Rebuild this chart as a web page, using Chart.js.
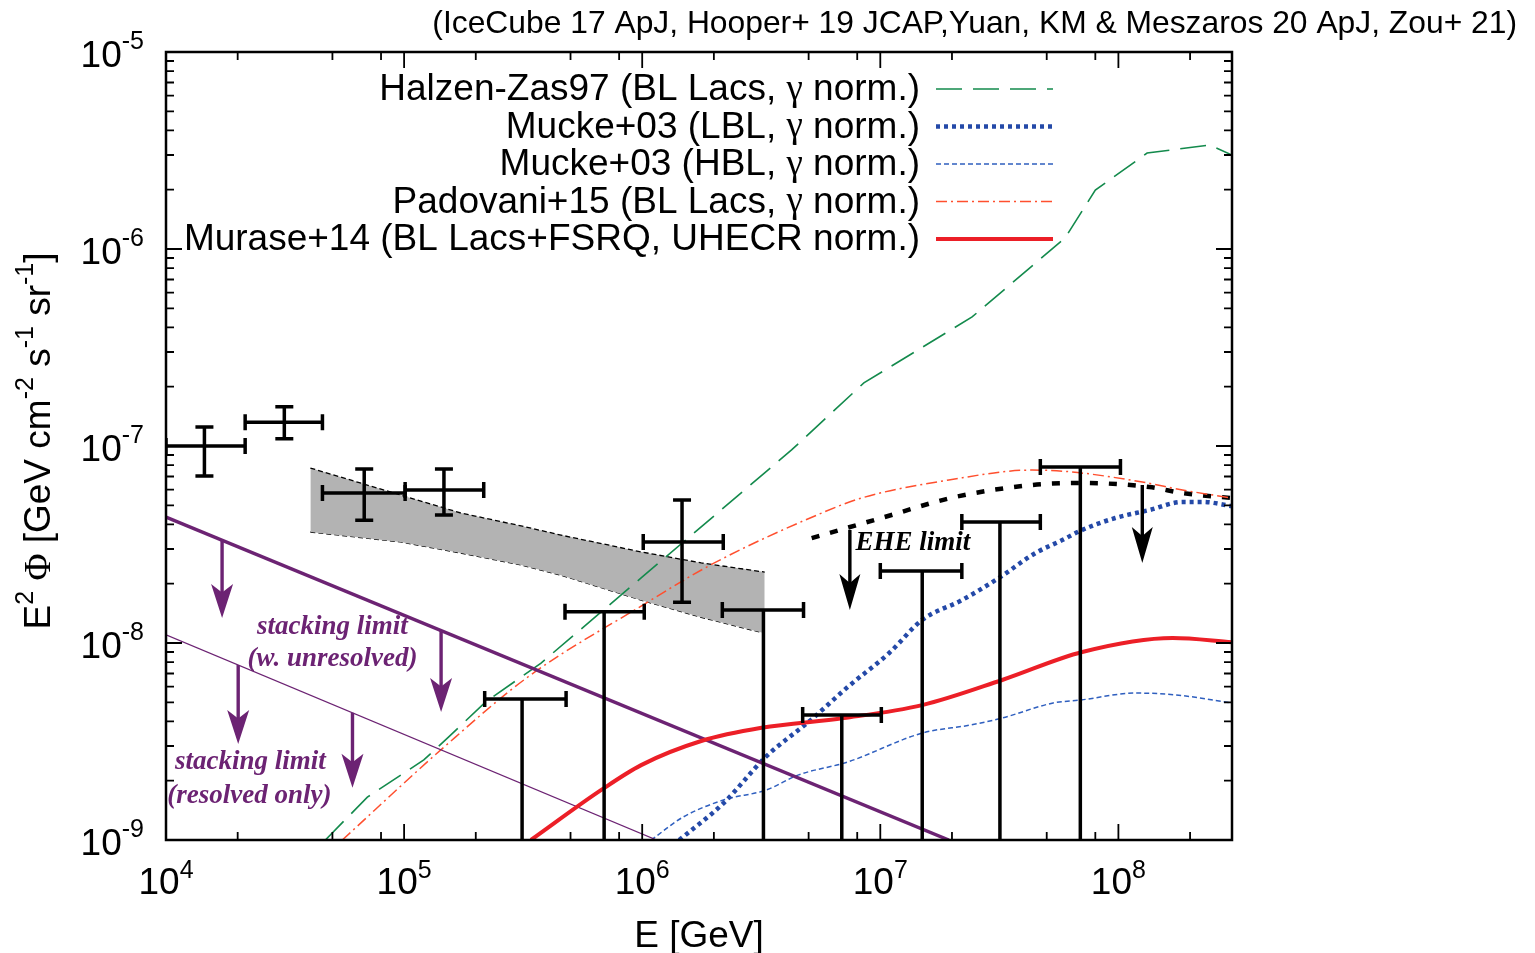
<!DOCTYPE html>
<html>
<head>
<meta charset="utf-8">
<script src="https://cdn.jsdelivr.net/npm/chart.js@4.4.1/dist/chart.umd.min.js"></script>
<style>
  html, body { margin: 0; padding: 0; background: #fff; }
</style>
</head>
<body>
<canvas id="myChart" width="1535" height="953"></canvas>
<script>
// axis ranges
const xMin = 1e4, xMax = 3e8, yMin = 1e-9, yMax = 1e-5;
const xTickExp = [4, 5, 6, 7, 8];
const yTickExp = [-9, -8, -7, -6, -5];
const xMinorMult = [2, 5, 8];
const yMinorMult = [2, 3, 4, 5, 6, 7, 8, 9];

// model curves: energy [GeV] and E^2 flux
const halzenE = [4.67e4, 7.01e4, 1.21e5, 1.52e5, 2.2e5, 3.76e5, 9.9e5, 4.24e6, 8.53e6, 2.43e7, 5.98e7, 8.0e7, 1.32e8, 2.42e8, 3.0e8];
const halzenF = [1.0e-9, 1.65e-9, 2.55e-9, 3.29e-9, 5.02e-9, 7.91e-9, 2.14e-8, 9.55e-8, 2.09e-7, 4.52e-7, 1.14e-6, 1.99e-6, 3.07e-6, 3.37e-6, 3.0e-6];

const lblE = [1.43e6, 2.21e6, 3.3e6, 5.1e6, 7.3e6, 1.09e7, 1.5e7, 2.2e7, 3.15e7, 4.48e7, 5.81e7, 7.05e7, 9.7e7, 1.35e8, 1.86e8, 2.26e8, 3.0e8];
const lblF = [1.0e-9, 1.55e-9, 2.64e-9, 4.06e-9, 5.98e-9, 8.9e-9, 1.31e-8, 1.65e-8, 2.14e-8, 2.86e-8, 3.33e-8, 3.75e-8, 4.31e-8, 4.73e-8, 5.2e-8, 5.2e-8, 4.95e-8];

const hblE = [1.09e6, 1.49e6, 2.21e6, 3.3e6, 4.54e6, 7.3e6, 1.5e7, 2.41e7, 3.25e7, 5.32e7, 6.98e7, 1.18e8, 1.75e8, 3.0e8];
const hblF = [1.0e-9, 1.31e-9, 1.6e-9, 1.79e-9, 2.14e-9, 2.49e-9, 3.49e-9, 3.84e-9, 4.16e-9, 4.96e-9, 5.14e-9, 5.57e-9, 5.45e-9, 4.96e-9];

const padovaniE = [5.5e4, 1.47e5, 3.31e5, 9.9e5, 2.01e6, 5.68e6, 8.36e6, 1.94e7, 4.35e7, 6.4e7, 1.26e8, 1.86e8, 3.0e8];
const padovaniF = [1.0e-9, 2.96e-9, 6.72e-9, 1.54e-8, 2.55e-8, 4.57e-8, 5.45e-8, 6.72e-8, 7.55e-8, 7.38e-8, 6.56e-8, 5.98e-8, 5.44e-8];

const muraseE = [3.41e5, 6.71e5, 9.9e5, 1.77e6, 3.17e6, 7.02e6, 1.5e7, 3.25e7, 7.05e7, 1.69e8, 3.0e8];
const muraseF = [1.0e-9, 1.79e-9, 2.4e-9, 3.18e-9, 3.71e-9, 4.16e-9, 4.84e-9, 6.49e-9, 9.0e-9, 1.06e-8, 1.01e-8];

const eheE = [5.15e6, 1.01e7, 2.06e7, 4.35e7, 7.05e7, 1.35e8, 1.86e8, 3.0e8];
const eheF = [3.41e-8, 4.31e-8, 5.51e-8, 6.34e-8, 6.49e-8, 6.19e-8, 5.77e-8, 5.44e-8];

// stacking limits
const stackAllE = [1e4, 1.94e7];
const stackAllF = [4.36e-8, 1.0e-9];
const stackResE = [1e4, 1.15e6];
const stackResF = [1.1e-8, 1.0e-9];

// diffuse flux band
const bandE = [4.04e4, 9.66e4, 1.73e5, 3.1e5, 4.56e5, 9.9e5, 1.77e6, 3.27e6];
const bandHi = [7.73e-8, 5.64e-8, 4.57e-8, 3.93e-8, 3.53e-8, 2.9e-8, 2.55e-8, 2.29e-8];
const bandLo = [3.66e-8, 3.26e-8, 2.86e-8, 2.49e-8, 2.21e-8, 1.65e-8, 1.35e-8, 1.12e-8];

// measured points
const ptE = [1.45e4, 3.14e4, 6.8e4, 1.47e5, 1.47e6];
const ptELo = [1.0e4, 2.15e4, 4.54e4, 1.01e5, 1.01e6];
const ptEHi = [2.15e4, 4.54e4, 1.01e5, 2.16e5, 2.19e6];
const ptF = [1.0e-7, 1.32e-7, 5.77e-8, 5.98e-8, 3.26e-8];
const ptFLo = [7.05e-8, 1.09e-7, 4.2e-8, 4.47e-8, 1.61e-8];
const ptFHi = [1.25e-7, 1.58e-7, 7.64e-8, 7.64e-8, 5.32e-8];

// upper limits
const ulE = [3.13e5, 6.92e5, 3.23e6, 6.89e6, 1.5e7, 3.18e7, 6.92e7];
const ulELo = [2.18e5, 4.74e5, 2.17e6, 4.72e6, 1.0e7, 2.2e7, 4.7e7];
const ulEHi = [4.79e5, 1.02e6, 4.76e6, 1.01e7, 2.2e7, 4.7e7, 1.02e8];
const ulF = [5.2e-9, 1.44e-8, 1.47e-8, 4.31e-9, 2.32e-8, 4.11e-8, 7.82e-8];

// arrows (energy, from, to)
const purpleArrowE = [1.72e4, 1.43e5, 2.01e4, 6.07e4];
const purpleArrowFrom = [3.33e-8, 1.16e-8, 7.73e-9, 4.42e-9];
const purpleArrowTo = [1.34e-8, 4.47e-9, 3.07e-9, 1.84e-9];
const blackArrowE = [7.45e6, 1.26e8];
const blackArrowFrom = [3.75e-8, 6.34e-8];
const blackArrowTo = [1.47e-8, 2.55e-8];

// text notes
const noteText = ['stacking limit', '(w. unresolved)', 'stacking limit', '(resolved only)', 'EHE limit'];
const noteE = [5.0e4, 5.0e4, 2.26e4, 2.24e4, 1.37e7];
const noteF = [1.2e-8, 8.3e-9, 2.49e-9, 1.67e-9, 3.22e-8];

const SANS = '"Liberation Sans", Arial, Helvetica, sans-serif';
const SERIF = '"Liberation Serif", "Times New Roman", serif';
const PURPLE = '#6c2373';

const xy = (xs, ys) => xs.map((x, i) => ({ x: x, y: ys[i] }));

function richWidth(ctx, segs) {
  let w = 0;
  for (const s of segs) { ctx.font = s.f; w += ctx.measureText(s.t).width; }
  return w;
}
function drawRich(ctx, segs, x, y, align) {
  const w = richWidth(ctx, segs);
  let cx = align === 'right' ? x - w : align === 'center' ? x - w / 2 : x;
  ctx.textAlign = 'left';
  for (const s of segs) {
    ctx.font = s.f;
    ctx.fillText(s.t, cx, y + (s.dy || 0));
    cx += ctx.measureText(s.t).width;
  }
}
function labelSegs(text) {
  const parts = text.split('γ');
  const segs = [];
  parts.forEach((p, i) => {
    if (i > 0) segs.push({ t: 'γ', f: '37px ' + SERIF });
    segs.push({ t: p, f: '37px ' + SANS });
  });
  return segs;
}
function arrow(ctx, x, y0, y1, lw, hl, hw) {
  ctx.lineWidth = lw;
  ctx.beginPath();
  ctx.moveTo(x, y0);
  ctx.lineTo(x, y1 - hl * 0.5);
  ctx.stroke();
  ctx.beginPath();
  ctx.moveTo(x, y1);
  ctx.lineTo(x - hw / 2, y1 - hl);
  ctx.lineTo(x, y1 - hl * 0.75);
  ctx.lineTo(x + hw / 2, y1 - hl);
  ctx.closePath();
  ctx.fill();
}

const decor = {
  id: 'decor',
  beforeDraw(chart) {
    const ctx = chart.ctx;
    ctx.save();
    ctx.fillStyle = '#fff';
    ctx.fillRect(0, 0, chart.width, chart.height);
    ctx.restore();
  },
  afterDatasetsDraw(chart) {
    const { ctx, chartArea: a, scales: { x, y } } = chart;
    ctx.save();
    ctx.beginPath();
    ctx.rect(a.left, a.top, a.right - a.left, a.bottom - a.top);
    ctx.clip();

    // error bars
    ctx.strokeStyle = '#000';
    ctx.lineWidth = 3.5;
    ctx.lineCap = 'butt';
    for (let i = 0; i < ptE.length; i++) {
      const px = x.getPixelForValue(ptE[i]), py = y.getPixelForValue(ptF[i]);
      const x0 = x.getPixelForValue(ptELo[i]), x1 = x.getPixelForValue(ptEHi[i]);
      const y0 = y.getPixelForValue(ptFHi[i]), y1 = y.getPixelForValue(ptFLo[i]);
      ctx.beginPath();
      ctx.moveTo(x0, py); ctx.lineTo(x1, py);
      ctx.moveTo(x0, py - 8); ctx.lineTo(x0, py + 8);
      ctx.moveTo(x1, py - 8); ctx.lineTo(x1, py + 8);
      ctx.moveTo(px, y0); ctx.lineTo(px, y1);
      ctx.moveTo(px - 9, y0); ctx.lineTo(px + 9, y0);
      ctx.moveTo(px - 9, y1); ctx.lineTo(px + 9, y1);
      ctx.stroke();
    }
    for (let i = 0; i < ulE.length; i++) {
      const px = x.getPixelForValue(ulE[i]), py = y.getPixelForValue(ulF[i]);
      const x0 = x.getPixelForValue(ulELo[i]), x1 = x.getPixelForValue(ulEHi[i]);
      ctx.beginPath();
      ctx.moveTo(x0, py); ctx.lineTo(x1, py);
      ctx.moveTo(x0, py - 8); ctx.lineTo(x0, py + 8);
      ctx.moveTo(x1, py - 8); ctx.lineTo(x1, py + 8);
      ctx.moveTo(px, py); ctx.lineTo(px, a.bottom);
      ctx.stroke();
    }

    // arrows
    ctx.strokeStyle = PURPLE; ctx.fillStyle = PURPLE;
    for (let i = 0; i < purpleArrowE.length; i++) {
      const px = x.getPixelForValue(purpleArrowE[i]);
      arrow(ctx, px, y.getPixelForValue(purpleArrowFrom[i]), y.getPixelForValue(purpleArrowTo[i]), 3.4, 34, 22);
    }
    ctx.strokeStyle = '#000'; ctx.fillStyle = '#000';
    for (let i = 0; i < blackArrowE.length; i++) {
      const px = x.getPixelForValue(blackArrowE[i]);
      arrow(ctx, px, y.getPixelForValue(blackArrowFrom[i]), y.getPixelForValue(blackArrowTo[i]), 3.4, 36, 21);
    }

    // notes
    ctx.textBaseline = 'middle';
    ctx.textAlign = 'center';
    ctx.font = 'italic bold 27px ' + SERIF;
    noteText.forEach((t, i) => {
      ctx.fillStyle = i < 4 ? PURPLE : '#000';
      ctx.fillText(t, x.getPixelForValue(noteE[i]), y.getPixelForValue(noteF[i]));
    });
    ctx.restore();

    // frame and ticks
    ctx.save();
    ctx.strokeStyle = '#000';
    ctx.lineWidth = 1.8;
    ctx.beginPath();
    for (const e of xTickExp) {
      const px = x.getPixelForValue(Math.pow(10, e));
      ctx.moveTo(px, a.bottom); ctx.lineTo(px, a.bottom - 16);
      ctx.moveTo(px, a.top); ctx.lineTo(px, a.top + 16);
      for (const m of xMinorMult) {
        const v = m * Math.pow(10, e);
        if (v > xMax) continue;
        const mx = x.getPixelForValue(v);
        ctx.moveTo(mx, a.bottom); ctx.lineTo(mx, a.bottom - 8);
        ctx.moveTo(mx, a.top); ctx.lineTo(mx, a.top + 8);
      }
    }
    for (const e of yTickExp) {
      const py = y.getPixelForValue(Math.pow(10, e));
      ctx.moveTo(a.left, py); ctx.lineTo(a.left + 16, py);
      ctx.moveTo(a.right, py); ctx.lineTo(a.right - 16, py);
      if (e === -5) continue;
      for (const m of yMinorMult) {
        const my = y.getPixelForValue(m * Math.pow(10, e));
        ctx.moveTo(a.left, my); ctx.lineTo(a.left + 8, my);
        ctx.moveTo(a.right, my); ctx.lineTo(a.right - 8, my);
      }
    }
    ctx.stroke();
    ctx.lineWidth = 2.5;
    ctx.strokeRect(a.left, a.top, a.right - a.left, a.bottom - a.top);

    // tick labels
    ctx.fillStyle = '#000';
    ctx.textBaseline = 'alphabetic';
    const big = '37px ' + SANS, small = '25px ' + SANS;
    for (const e of xTickExp) {
      const px = x.getPixelForValue(Math.pow(10, e));
      drawRich(ctx, [{ t: '10', f: big }, { t: String(e), f: small, dy: -16 }], px, a.bottom + 54, 'center');
    }
    for (const e of yTickExp) {
      const py = y.getPixelForValue(Math.pow(10, e));
      drawRich(ctx, [{ t: '10', f: big }, { t: '-' + String(-e), f: small, dy: -18 }], a.left - 22, py + 15, 'right');
    }

    // axis titles
    ctx.textAlign = 'center';
    ctx.font = '37px ' + SANS;
    ctx.fillText('E [GeV]', (a.left + a.right) / 2, 947);
    ctx.save();
    ctx.translate(50, (a.top + a.bottom) / 2 - 5);
    ctx.rotate(-Math.PI / 2);
    drawRich(ctx, [
      { t: 'E', f: big }, { t: '2', f: small, dy: -17 },
      { t: ' ', f: big }, { t: 'Φ', f: '37px ' + SERIF },
      { t: ' [GeV cm', f: big }, { t: '-2', f: small, dy: -17 },
      { t: ' s', f: big }, { t: '-1', f: small, dy: -17 },
      { t: ' sr', f: big }, { t: '-1', f: small, dy: -17 },
      { t: ']', f: big }
    ], 0, 0, 'center');
    ctx.restore();

    // top reference note
    ctx.textAlign = 'right';
    ctx.font = '31.8px ' + SANS;
    ctx.fillText('(IceCube 17 ApJ, Hooper+ 19 JCAP,Yuan, KM & Meszaros 20 ApJ, Zou+ 21)', 1517, 33);

    // legend
    const legendSets = chart.data.datasets.filter(d => d.legendText);
    legendSets.forEach((d, i) => {
      const ly = a.top + 37 + i * 37.5;
      ctx.fillStyle = '#000';
      ctx.textBaseline = 'middle';
      drawRich(ctx, labelSegs(d.legendText), a.right - 312, ly + 1, 'right');
      ctx.strokeStyle = d.borderColor;
      ctx.lineWidth = d.borderWidth;
      ctx.setLineDash(d.borderDash || []);
      ctx.beginPath();
      ctx.moveTo(a.right - 296, ly);
      ctx.lineTo(a.right - 179, ly);
      ctx.stroke();
      ctx.setLineDash([]);
    });
    ctx.restore();
  }
};

const ctx = document.getElementById('myChart').getContext('2d');
new Chart(ctx, {
  type: 'line',
  data: {
    datasets: [
      {
        legendText: 'Halzen-Zas97 (BL Lacs, γ norm.)',
        data: xy(halzenE, halzenF),
        borderColor: '#138a4c', borderWidth: 1.6, borderDash: [26, 11],
        tension: 0, order: 3
      },
      {
        legendText: 'Mucke+03 (LBL, γ norm.)',
        data: xy(lblE, lblF),
        borderColor: '#2449a8', borderWidth: 4.5, borderDash: [4, 4],
        cubicInterpolationMode: 'monotone', order: 3
      },
      {
        legendText: 'Mucke+03 (HBL, γ norm.)',
        data: xy(hblE, hblF),
        borderColor: '#2f5fbf', borderWidth: 1.5, borderDash: [5, 3],
        cubicInterpolationMode: 'monotone', order: 3
      },
      {
        legendText: 'Padovani+15 (BL Lacs, γ norm.)',
        data: xy(padovaniE, padovaniF),
        borderColor: '#ff4f2e', borderWidth: 1.5, borderDash: [11, 4, 2, 4],
        cubicInterpolationMode: 'monotone', order: 3
      },
      {
        legendText: 'Murase+14 (BL Lacs+FSRQ, UHECR norm.)',
        data: xy(muraseE, muraseF),
        borderColor: '#ec1f27', borderWidth: 4,
        cubicInterpolationMode: 'monotone', order: 2
      },
      {
        data: xy(eheE, eheF),
        borderColor: '#000', borderWidth: 4.5, borderDash: [8, 11],
        cubicInterpolationMode: 'monotone', order: 3
      },
      {
        data: xy(stackAllE, stackAllF),
        borderColor: PURPLE, borderWidth: 3.5, order: 2
      },
      {
        data: xy(stackResE, stackResF),
        borderColor: PURPLE, borderWidth: 1.3, order: 2
      },
      {
        data: xy(bandE, bandHi),
        borderColor: '#000', borderWidth: 1.3, borderDash: [5, 3],
        backgroundColor: '#b3b3b3', fill: '+1', order: 5
      },
      {
        data: xy(bandE, bandLo),
        borderColor: '#000', borderWidth: 1.3, borderDash: [5, 3],
        fill: false, order: 5
      }
    ]
  },
  options: {
    responsive: false,
    animation: false,
    layout: { padding: { left: 166, right: 303, top: 52, bottom: 113 } },
    elements: { point: { radius: 0 } },
    datasets: { line: { clip: 0, spanGaps: true } },
    plugins: {
      legend: { display: false },
      tooltip: { enabled: false }
    },
    scales: {
      x: { type: 'logarithmic', min: xMin, max: xMax, display: false },
      y: { type: 'logarithmic', min: yMin, max: yMax, display: false }
    }
  },
  plugins: [decor]
});
</script>
</body>
</html>
